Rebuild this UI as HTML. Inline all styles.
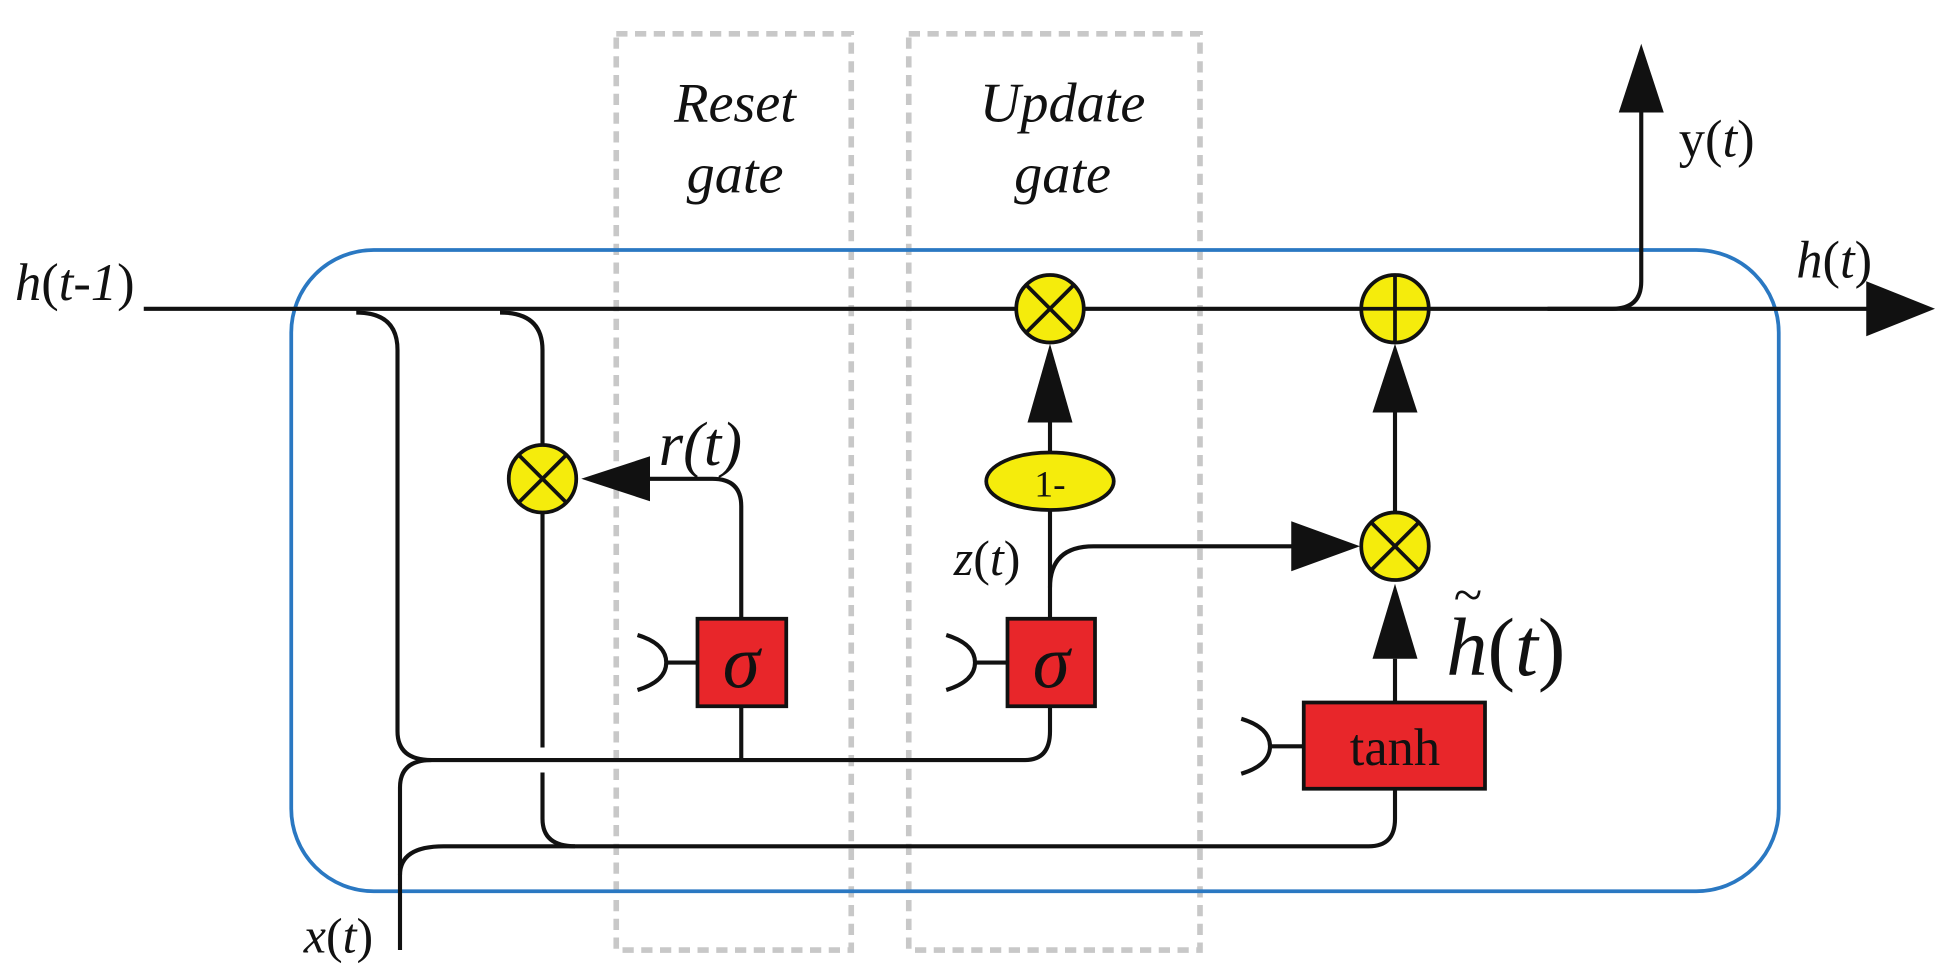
<!DOCTYPE html>
<html><head><style>html,body{margin:0;padding:0;background:#fff}svg{display:block}</style></head>
<body>
<svg width="1953" height="979" viewBox="0 0 1562.4 783.2" xmlns="http://www.w3.org/2000/svg" font-family="Liberation Serif, serif">
<rect x="493" y="27" width="188" height="733" fill="none" stroke="#c8c8c8" stroke-width="4.5" stroke-dasharray="9,6"/>
<rect x="727" y="27" width="233" height="733" fill="none" stroke="#c8c8c8" stroke-width="4.5" stroke-dasharray="9,6"/>
<rect x="233" y="200" width="1190" height="513" rx="66" fill="none" stroke="#2a78c2" stroke-width="3"/>
<g fill="none" stroke="#111" stroke-width="3.3">
<line x1="115" y1="247" x2="1495" y2="247"/>
<path d="M1238,247 L1290,247 Q1313,247 1313,225 L1313,90"/>
<path d="M285,250 Q318,250 318,280 L318,585 Q318,608 345,608 L820,608 Q840,608 840,585 L840,565"/>
<path d="M400,250 Q434,250 434,280 L434,598"/>
<path d="M434,618 L434,655 Q434,677 460,677"/>
<path d="M320,760 L320,630 Q320,608 345,608"/>
<path d="M320,700 Q320,677 355,677 L1095,677 Q1116,677 1116,655 L1116,631"/>
<line x1="593" y1="565" x2="593" y2="608"/>
<path d="M593,495 L593,405 Q593,383 570,383 L520,383"/>
<line x1="840" y1="495" x2="840" y2="408"/>
<line x1="840" y1="362" x2="840" y2="338"/>
<path d="M840,470 Q840,437 875,437 L1035,437"/>
<line x1="1116" y1="562" x2="1116" y2="527"/>
<line x1="1116" y1="409" x2="1116" y2="330"/>
<path d="M510,508 Q533,515 533,530 Q533,545 510,552"/><line x1="533" y1="530" x2="558" y2="530"/>
<path d="M757,508 Q780,515 780,530 Q780,545 757,552"/><line x1="780" y1="530" x2="806" y2="530"/>
<path d="M993,575 Q1016,582 1016,597 Q1016,612 993,619"/><line x1="1016" y1="597" x2="1043" y2="597"/>
</g>
<g fill="#111">
<path d="M1548,247 L1493,225 L1493,269 Z"/>
<path d="M1313,35 L1295,90 L1331,90 Z"/>
<path d="M465,383 L520,365 L520,401 Z"/>
<path d="M840,275 L822,338 L858,338 Z"/>
<path d="M1088,437 L1033,417 L1033,457 Z"/>
<path d="M1116,467 L1098,527 L1134,527 Z"/>
<path d="M1116,275 L1098,330 L1134,330 Z"/>
</g>
<g fill="#f5ec0c" stroke="#111" stroke-width="3">
<circle cx="840" cy="247" r="27"/>
<circle cx="1116" cy="247" r="27"/>
<circle cx="434" cy="383" r="27"/>
<circle cx="1116" cy="437" r="27"/>
<ellipse cx="840" cy="385" rx="51" ry="23"/>
</g>
<g stroke="#111" stroke-width="3">
<path d="M821,228 L859,266 M859,228 L821,266"/>
<path d="M415,364 L453,402 M453,364 L415,402"/>
<path d="M1097,418 L1135,456 M1135,418 L1097,456"/>
<path d="M1116,220 L1116,274 M1089,247 L1143,247"/>
</g>
<g fill="#e8262a" stroke="#111" stroke-width="3">
<rect x="558" y="495" width="71" height="70"/>
<rect x="806" y="495" width="70" height="70"/>
<rect x="1043" y="562" width="145" height="69"/>
</g>
<g font-style="italic" fill="#111">
<text x="593" y="550" font-size="60" text-anchor="middle">σ</text>
<text x="841" y="550" font-size="60" text-anchor="middle">σ</text>
<text x="588" y="97" font-size="45" text-anchor="middle">Reset</text>
<text x="588" y="154" font-size="45" text-anchor="middle">gate</text>
<text x="850" y="97" font-size="45" text-anchor="middle">Update</text>
<text x="850" y="154" font-size="45" text-anchor="middle">gate</text>
<text x="12" y="240" font-size="42">h<tspan font-style="normal">(</tspan>t-1<tspan font-style="normal">)</tspan></text>
<text x="1437" y="222" font-size="42">h<tspan font-style="normal">(</tspan>t<tspan font-style="normal">)</tspan></text>
<text x="1343" y="125" font-size="42"><tspan font-style="normal">y(</tspan>t<tspan font-style="normal">)</tspan></text>
<text x="527" y="372" font-size="50">r(t)</text>
<text x="763" y="460" font-size="40">z<tspan font-style="normal">(</tspan>t<tspan font-style="normal">)</tspan></text>
<text x="243" y="762" font-size="40">x<tspan font-style="normal">(</tspan>t<tspan font-style="normal">)</tspan></text>
<text x="1157" y="540" font-size="66">h<tspan font-style="normal">(</tspan>t<tspan font-style="normal">)</tspan></text>
<text x="1163" y="490" font-size="42" font-style="normal">~</text>
</g>
<text x="1116" y="612" font-size="42" text-anchor="middle" fill="#111">tanh</text>
<text x="840" y="397" font-size="30" text-anchor="middle" fill="#111">1-</text>
</svg>
</body></html>
